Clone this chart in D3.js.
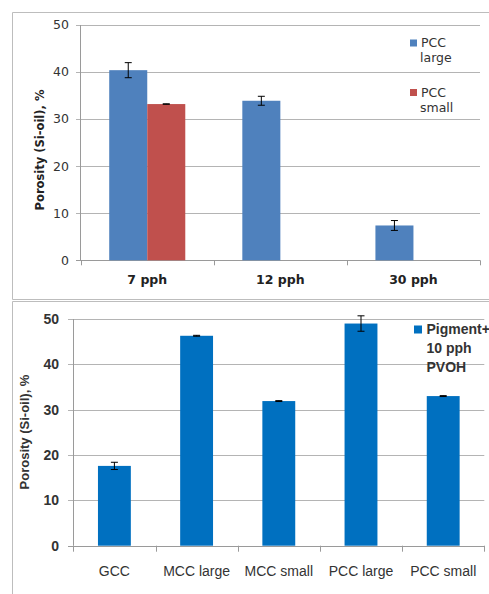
<!DOCTYPE html>
<html>
<head>
<meta charset="utf-8">
<script src="https://cdn.jsdelivr.net/npm/d3@7"></script>
<style>
  body { margin: 0; background: #fff; }
  svg { display: block; }
</style>
</head>
<body>
<div id="chart"></div>
<script>
// top chart data
const topCategories = ["7 pph", "12 pph", "30 pph"];
const topSeries = ["PCC large", "PCC small"];
const topLarge = [40.4, 33.9, 7.4];
const topLargeErr = [1.6, 0.95, 1.05];
const topSmall = [33.2, null, null];
const topSmallErr = [0.05, null, null];

// bottom chart data
const botCategories = ["GCC", "MCC large", "MCC small", "PCC large", "PCC small"];
const botValues = [17.6, 46.3, 31.9, 49.0, 33.0];
const botErr = [0.8, 0.1, 0.1, 1.7, 0.1];
const yTicks = [0, 10, 20, 30, 40, 50];

const svg = d3.select("#chart").append("svg")
  .attr("width", 489)
  .attr("height", 594);

svg.append("rect").attr("width", 489).attr("height", 594).attr("fill", "#fff");

// frames
svg.append("path")
  .attr("d", "M489,12.5H12.5V299.5H489")
  .attr("fill", "none").attr("stroke", "#bdbdbd");
svg.append("path")
  .attr("d", "M489,301.5H12.5V594")
  .attr("fill", "none").attr("stroke", "#bdbdbd");

let errBar = (g, x, y, v, e) => {
  if (!e) return;
  const cx = x;
  g.append("line").attr("x1", cx).attr("x2", cx)
    .attr("y1", y(v + e)).attr("y2", y(v - e))
    .attr("stroke", "#000");
  [v + e, v - e].forEach(t => {
    g.append("line").attr("x1", cx - 3.5).attr("x2", cx + 3.5)
      .attr("y1", y(t)).attr("y2", y(t)).attr("stroke", "#000");
  });
};

// ---------- top chart ----------
{
  const g = svg.append("g");
  const y = d3.scaleLinear().domain([0, 50]).range([260.3, 25]);
  const x0 = d3.scaleBand().domain(topCategories).range([80.7, 480]).padding(0);
  const bw = x0.bandwidth() / 3.5;
  const x1 = d3.scaleBand().domain(topSeries).range([0, bw * 2]);
  const colors = ["#4f81bd", "#c0504d"];

  yTicks.forEach(t => {
    g.append("line").attr("x1", 76).attr("x2", 480)
      .attr("y1", Math.round(y(t)) + 0.5).attr("y2", Math.round(y(t)) + 0.5)
      .attr("stroke", t === 0 ? "#9a9a9a" : "#b4b4b4");
    g.append("text").attr("x", 69).attr("y", y(t)).attr("dy", "0.35em")
      .attr("text-anchor", "end")
      .attr("font-family", "DejaVu Sans").attr("font-size", 12.5)
      .attr("fill", "#333").text(t);
  });
  g.append("line").attr("x1", 80.5).attr("x2", 80.5)
    .attr("y1", y(50)).attr("y2", y(0)).attr("stroke", "#9a9a9a");
  [...topCategories.map(c => x0(c)), 480].forEach(px => {
    g.append("line").attr("x1", Math.round(px) + 0.5).attr("x2", Math.round(px) + 0.5)
      .attr("y1", y(0)).attr("y2", y(0) + 5).attr("stroke", "#9a9a9a");
  });

  const sets = [[topLarge, topLargeErr], [topSmall, topSmallErr]];
  topCategories.forEach((c, i) => {
    const gx = x0(c) + (x0.bandwidth() - bw * 2) / 2;
    topSeries.forEach((s, j) => {
      const v = sets[j][0][i];
      if (v == null) return;
      g.append("rect").attr("x", gx + x1(s)).attr("width", x1.bandwidth())
        .attr("y", y(v)).attr("height", y(0) - y(v)).attr("fill", colors[j]);
      errBar(g, gx + x1(s) + x1.bandwidth() / 2, y, v, sets[j][1][i]);
    });
    g.append("text").attr("x", x0(c) + x0.bandwidth() / 2).attr("y", 284)
      .attr("text-anchor", "middle")
      .attr("font-family", "DejaVu Sans").attr("font-size", 12.5).attr("font-weight", "bold")
      .attr("fill", "#222").text(c);
  });

  g.append("text").attr("transform", "translate(44,150) rotate(-90)")
    .attr("text-anchor", "middle")
    .attr("font-family", "DejaVu Sans").attr("font-size", 11.5).attr("font-weight", "bold")
    .attr("fill", "#222").text("Porosity (Si-oil), %");

  // legend
  const leg = [["PCC", "large", 43], ["PCC", "small", 92.5]];
  leg.forEach((l, j) => {
    g.append("rect").attr("x", 410).attr("y", l[2] - 3.5).attr("width", 7).attr("height", 7)
      .attr("fill", colors[j]);
    g.append("text").attr("x", 421).attr("y", l[2]).attr("dy", "0.35em")
      .attr("font-family", "DejaVu Sans").attr("font-size", 12.5).attr("fill", "#333").text(l[0]);
    g.append("text").attr("x", 420).attr("y", l[2] + 15).attr("dy", "0.35em")
      .attr("font-family", "DejaVu Sans").attr("font-size", 12.5).attr("fill", "#333").text(l[1]);
  });
}

// ---------- bottom chart ----------
{
  const g = svg.append("g");
  const y = d3.scaleLinear().domain([0, 50]).range([545.7, 319]);
  const x = d3.scaleBand().domain(botCategories).range([73.3, 484.3]).padding(0);
  const bw = x.bandwidth() / 2.5;
  const color = "#0070c0";

  yTicks.forEach(t => {
    g.append("line").attr("x1", 68).attr("x2", 484.3)
      .attr("y1", Math.round(y(t)) + 0.5).attr("y2", Math.round(y(t)) + 0.5)
      .attr("stroke", t === 0 ? "#9a9a9a" : "#b4b4b4");
    g.append("text").attr("x", 59).attr("y", y(t)).attr("dy", "0.35em")
      .attr("text-anchor", "end")
      .attr("font-family", "Liberation Sans").attr("font-size", 14).attr("font-weight", "bold")
      .attr("fill", "#333").text(t);
  });
  g.append("line").attr("x1", 73.5).attr("x2", 73.5)
    .attr("y1", y(50)).attr("y2", y(0)).attr("stroke", "#9a9a9a");
  [...botCategories.map(c => x(c)), 484.3].forEach(px => {
    g.append("line").attr("x1", Math.round(px) + 0.5).attr("x2", Math.round(px) + 0.5)
      .attr("y1", y(0)).attr("y2", y(0) + 6).attr("stroke", "#9a9a9a");
  });

  botCategories.forEach((c, i) => {
    const v = botValues[i];
    const bx = x(c) + (x.bandwidth() - bw) / 2;
    g.append("rect").attr("x", bx).attr("width", bw)
      .attr("y", y(v)).attr("height", y(0) - y(v)).attr("fill", color);
    errBar(g, bx + bw / 2, y, v, botErr[i]);
    g.append("text").attr("x", x(c) + x.bandwidth() / 2).attr("y", 576)
      .attr("text-anchor", "middle")
      .attr("font-family", "Liberation Sans").attr("font-size", 14)
      .attr("fill", "#333").text(c);
  });

  g.append("text").attr("transform", "translate(29,432) rotate(-90)")
    .attr("text-anchor", "middle")
    .attr("font-family", "Liberation Sans").attr("font-size", 13).attr("font-weight", "bold")
    .attr("fill", "#333").text("Porosity (Si-oil), %");

  // legend
  g.append("rect").attr("x", 414).attr("y", 325.5).attr("width", 8).attr("height", 8).attr("fill", color);
  ["Pigment+", "10 pph", "PVOH"].forEach((t, k) => {
    g.append("text").attr("x", 426.5).attr("y", 329.5 + k * 19).attr("dy", "0.35em")
      .attr("font-family", "Liberation Sans").attr("font-size", 14).attr("font-weight", "bold")
      .attr("fill", "#333").text(t);
  });
}
</script>
</body>
</html>
